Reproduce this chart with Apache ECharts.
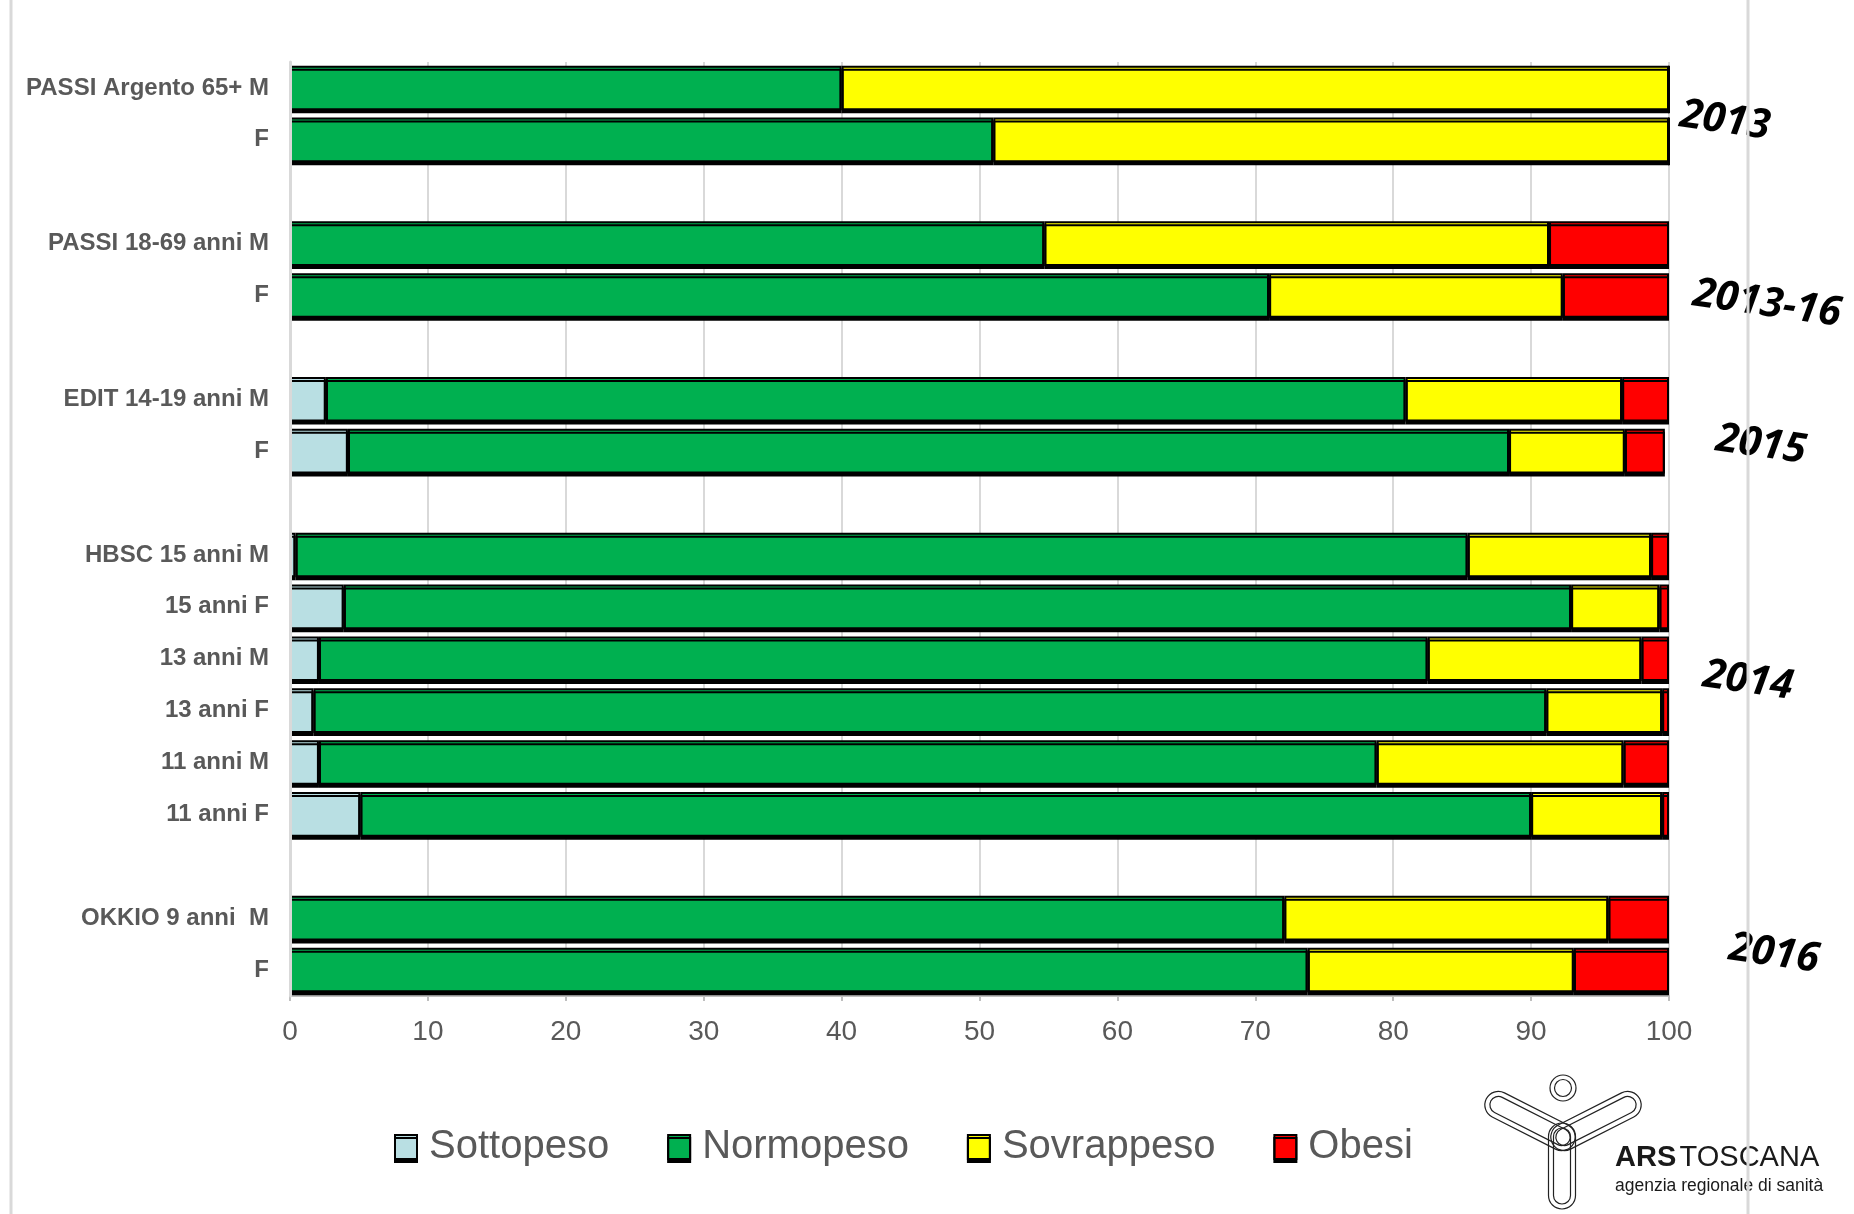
<!DOCTYPE html>
<html>
<head>
<meta charset="utf-8">
<script src="https://cdn.jsdelivr.net/npm/echarts@6/dist/echarts.min.js"></script>
<style>html,body{margin:0;padding:0;background:#fff;}#c{width:1854px;height:1214px;}</style>
</head>
<body>
<div id="c"></div>
<script>
const categories = ['PASSI Argento 65+ M','F',' ','PASSI 18-69 anni M','F','  ','EDIT 14-19 anni M','F','   ',
  'HBSC 15 anni M','15 anni F','13 anni M','13 anni F','11 anni M','11 anni F','    ','OKKIO 9 anni  M','F'];
const sottopeso  = [0, 0, null, 0, 0, null, 2.6, 4.2, null, 0.4, 3.9, 2.1, 1.7, 2.1, 5.1, null, 0, 0];
const normopeso  = [40, 51, null, 54.7, 71.0, null, 78.3, 84.2, null, 85.0, 89.0, 80.4, 89.4, 76.7, 84.9, null, 72.1, 73.8];
const sovrappeso = [60, 49, null, 36.6, 21.3, null, 15.7, 8.4, null, 13.3, 6.4, 15.5, 8.4, 17.9, 9.5, null, 23.5, 19.3];
const obesi      = [0, 0, null, 8.7, 7.7, null, 3.4, 2.9, null, 1.3, 0.7, 2.0, 0.5, 3.3, 0.5, null, 4.4, 6.9];
const seriesNames = ['Sottopeso','Normopeso','Sovrappeso','Obesi'];
const seriesColors = ['#b9dfe3','#00b050','#ffff00','#ff0000'];
const xTicks = [0,10,20,30,40,50,60,70,80,90,100];
const yearLabels = ['2013','2013-16','2015','2014','2016'];

const chart = echarts.init(document.getElementById('c'), null, {renderer:'canvas'});
const values = [sottopeso, normopeso, sovrappeso, obesi];
const series = values.map((v, i) => ({
  name: seriesNames[i],
  type: 'bar',
  stack: 'tot',
  data: v,
  barWidth: '86%',
  itemStyle: {
    color: seriesColors[i],
    borderColor: '#000',
    borderWidth: 2,
    shadowColor: '#000',
    shadowOffsetY: 3,
    shadowBlur: 0
  },
  emphasis: {disabled: true}
}));

const yearPos = [[1725,121],[1767,304],[1761,445],[1748,681],[1774,954]];
const graphics = [];
yearLabels.forEach((t, i) => {
  graphics.push({
    type: 'text', x: yearPos[i][0], y: yearPos[i][1], rotation: -0.14, z: 100,
    style: {text: t, fill: '#000', font: 'italic bold 41px "Open Sans", sans-serif', align: 'center', verticalAlign: 'middle'}
  });
});
// frame lines
graphics.push({type:'line', shape:{x1:11,y1:0,x2:11,y2:1214}, style:{stroke:'#d9d9d9', lineWidth:3}, z:100});
graphics.push({type:'line', shape:{x1:1748,y1:0,x2:1748,y2:1214}, style:{stroke:'#d9d9d9', lineWidth:3}, z:101});
// logo
function capsule(cx, cy, w, h, rot) {
  return {type:'rect', x:cx, y:cy, rotation:rot, shape:{x:-w/2, y:-h/2, width:w, height:h, r:Math.min(w,h)/2},
    style:{fill:null, stroke:'#222', lineWidth:1.2}, z:100};
}
graphics.push(capsule(1530, 1121, 98, 27, -0.47));
graphics.push(capsule(1530, 1121, 88, 17, -0.47));
graphics.push(capsule(1596, 1121, 98, 27, 0.47));
graphics.push(capsule(1596, 1121, 88, 17, 0.47));
graphics.push(capsule(1562, 1166, 27, 86, 0));
graphics.push(capsule(1562, 1166, 17, 76, 0));
graphics.push({type:'circle', shape:{cx:1563, cy:1088, r:13}, style:{fill:null, stroke:'#222', lineWidth:1.2}, z:100});
graphics.push({type:'circle', shape:{cx:1563, cy:1088, r:8.5}, style:{fill:null, stroke:'#222', lineWidth:1.2}, z:100});
graphics.push({type:'text', x:1615, y:1172, z:100, style:{
  text:'{b|ARS} {r|TOSCANA}', verticalAlign:'bottom',
  rich:{b:{font:'bold 29px "Liberation Sans", sans-serif', fill:'#1a1a1a'},
        r:{font:'29px "Liberation Sans", sans-serif', fill:'#1a1a1a'}}
}});
graphics.push({type:'text', x:1615, y:1195, z:100, style:{
  text:'agenzia regionale di sanità', verticalAlign:'bottom', fill:'#1a1a1a',
  font:'17.5px "Liberation Sans", sans-serif'
}});

chart.setOption({
  animation: false,
  backgroundColor: '#fff',
  grid: {left: 290, right: 185, top: 62, bottom: 218, containLabel: false},
  xAxis: {
    type: 'value', min: 0, max: 100, interval: 10,
    axisLine: {show: true, lineStyle: {color: '#bfbfbf', width: 2}},
    axisTick: {show: true, length: 5, lineStyle: {color: '#bfbfbf', width: 2}},
    splitLine: {show: true, lineStyle: {color: '#d9d9d9', width: 2}},
    axisLabel: {
      margin: 22, color: '#595959', fontSize: 28,
      fontFamily: '"Liberation Sans", Arial, sans-serif',
      formatter: (v) => xTicks.includes(v) ? String(v) : ''
    }
  },
  yAxis: {
    type: 'category', data: categories, inverse: true, z: 10,
    axisLine: {show: true, lineStyle: {color: '#d9d9d9', width: 3}},
    axisTick: {show: false},
    axisLabel: {interval: 0, margin: 21, color: '#595959', fontSize: 24, fontWeight: 'bold',
      fontFamily: '"Liberation Sans", Arial, sans-serif'}
  },
  legend: {
    left: 389, top: 1122, itemWidth: 22, itemHeight: 24, itemGap: 58,
    icon: 'rect',
    itemStyle: {borderColor: '#000', borderWidth: 2, shadowColor: '#000', shadowOffsetY: 3, shadowBlur: 0},
    textStyle: {color: '#595959', fontSize: 40, fontFamily: '"Liberation Sans", Arial, sans-serif', padding: [0,0,0,7]},
    data: seriesNames
  },
  series: series,
  graphic: graphics
});
</script>
</body>
</html>
